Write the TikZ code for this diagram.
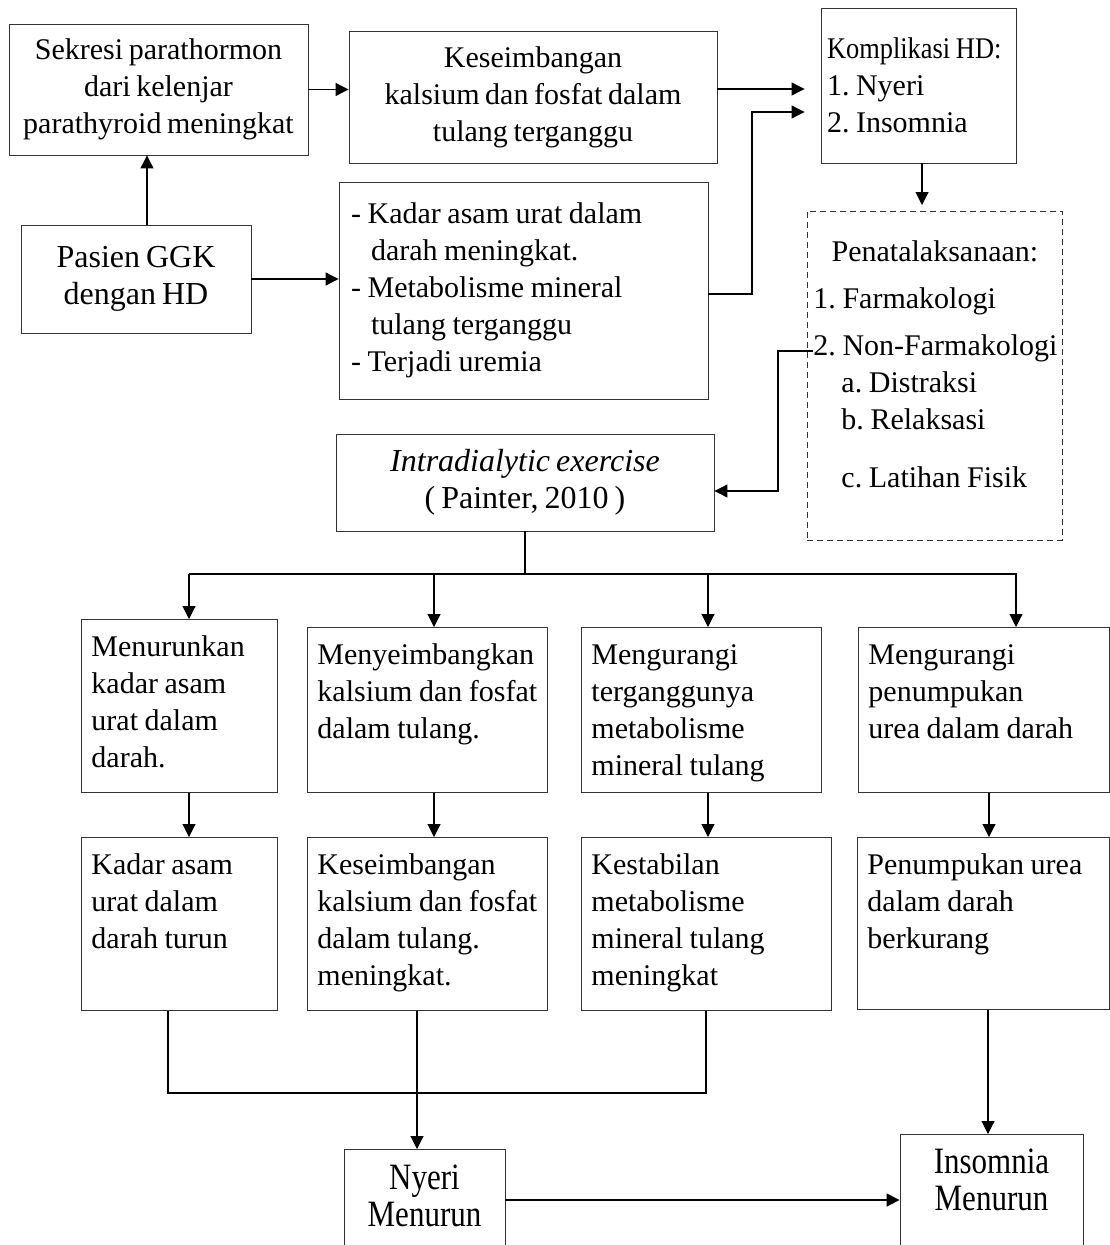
\documentclass[tikz,border=0pt]{standalone}
\usepackage{fontspec}
\setmainfont{Liberation Serif}[WordSpace=0.75]
\usepackage{graphicx}
\usetikzlibrary{arrows.meta,positioning}

\tikzset{
  block/.style={draw=black!80, line width=0.9pt, align=center, inner sep=4pt},
  cell/.style={draw=black!80, line width=0.9pt, anchor=north west, align=left,
    inner xsep=0pt, inner ysep=0pt, text height=37pt,
    execute at begin node={\leftskip 10pt\spaceskip 0.22em\relax}},
  dashblock/.style={draw=black!80, line width=0.9pt, dash pattern=on 6pt off 4pt,
    anchor=north west, align=left, inner xsep=0pt, inner ysep=0pt,
    execute at begin node={\leftskip 6pt\spaceskip 0.22em\relax}},
  big/.style={font=\fontsize{32}{37}\selectfont},
  tall/.style={font=\fontsize{31}{37}\selectfont},
}

\begin{document}
\begin{tikzpicture}[x=1pt,y=-1pt,>={Triangle[length=13pt,width=13pt]},line width=1.1pt,
  font=\fontsize{30}{37}\selectfont\frenchspacing]
\path[use as bounding box] (0,0) rectangle (1110,1245);
\clip (0,0) rectangle (1110,1245);

% upper part
\node[block, minimum width=299, minimum height=131] (sekresi) at (158.5,89.5) {Sekresi parathormon\\dari kelenjar\\parathyroid meningkat};
\node[block, minimum width=368, minimum height=132] (seimbang) at (533,97) {Keseimbangan\\kalsium dan fosfat dalam\\tulang terganggu};
\node[block, big, minimum width=230, minimum height=108] (pasien) at (136,279) {Pasien GGK\\dengan HD};
\node[block, align=left, text width=369, inner xsep=0pt, minimum height=217,
  execute at begin node={\leftskip 12pt\spaceskip 0.22em\relax}] (gangguan) at (523.5,290.5) {- Kadar asam urat dalam\\\hspace*{20pt}darah meningkat.\\- Metabolisme mineral\\\hspace*{20pt}tulang terganggu\\- Terjadi uremia};
\node[block, align=left, text width=195, inner xsep=0pt, minimum height=155,
  execute at begin node={\leftskip 6pt\spaceskip 0.22em\relax}] (komplikasi) at (918.5,85.5) {\scalebox{0.88}[1]{Komplikasi HD:}\\1. Nyeri\\2. Insomnia};
\node[dashblock, text width=255, text height=50pt, text depth=279pt] (tata) at (807,211) {\makebox[243pt]{Penatalaksanaan:}\\[10pt]1. Farmakologi\\[10pt]2. Non-Farmakologi\\\hspace*{28pt}a. Distraksi\\\hspace*{28pt}b. Relaksasi\\[21pt]\hspace*{28pt}c. Latihan Fisik};
\coordinate (nonfarma) at (813,351);
\node[block, big, minimum width=378, minimum height=97] (intra) at (525,482.5) {\textit{Intradialytic exercise}\\( Painter, 2010 )};

% four effects
\node[cell, text width=196, text depth=136] (turun1) at (81,619) {Menurunkan\\kadar asam\\urat dalam\\darah.};
\node[cell, text width=240, text depth=128] (turun2) at (307,627) {Menyeimbangkan\\kalsium dan fosfat\\dalam tulang.};
\node[cell, text width=240, text depth=128] (turun3) at (581,627) {Mengurangi\\terganggunya\\metabolisme\\mineral tulang};
\node[cell, text width=251, text depth=128] (turun4) at (858,627) {Mengurangi\\penumpukan\\urea dalam darah};

\node[cell, text width=196, text depth=136] (hasil1) at (81,837) {Kadar asam\\urat dalam\\darah turun};
\node[cell, text width=240, text depth=136] (hasil2) at (307,837) {Keseimbangan\\kalsium dan fosfat\\dalam tulang.\\meningkat.};
\node[cell, text width=250, text depth=136] (hasil3) at (581,837) {Kestabilan\\metabolisme\\mineral tulang\\meningkat};
\node[cell, text width=252, text depth=135] (hasil4) at (857,837) {Penumpukan urea\\dalam darah\\berkurang};

\node[block, tall, minimum width=161, minimum height=118, anchor=north] (nyeri) at (424.5,1149) {\smash{\scalebox{1}[1.2]{Nyeri}}\\\smash{\scalebox{1}[1.2]{Menurun}}};
\node[block, tall, minimum width=183, minimum height=115, anchor=north] (insomnia) at (991.5,1134) {\smash{\scalebox{1}[1.2]{Insomnia}}\\\smash{\scalebox{1}[1.2]{Menurun}}};

% connectors
\draw[->] (sekresi.east) -- (sekresi.east -| seimbang.west);
\draw[->] (pasien.north -| 147,0) -- (sekresi.south -| 147,0);
\draw[->] (pasien.east) -- (pasien.east -| gangguan.west);
\draw[->, shorten >=16pt] (seimbang.east |- 0,89) -- (komplikasi.west |- 0,89);
\draw[->, shorten >=16pt] (gangguan.east |- 0,294) -- (752,294) -- (752,112) -- (komplikasi.west |- 0,112);
\draw[->, shorten >=6pt] (komplikasi.south -| 922,0) -- (tata.north -| 922,0);
\draw[->] (nonfarma) -- (778,351) -- (778,491) -- (intra.east |- 0,491);

\draw (intra.south) -- (525,574);
\draw (189,574) -- (1017,574);
\foreach \nd/\x in {turun1/189,turun2/434,turun3/708,turun4/1016}
  \draw[->] (\x,574) -- (\nd.north -| \x,0);
\foreach \nd/\x in {1/189,2/434,3/708,4/989}
  \draw[->] (turun\nd.south -| \x,0) -- (hasil\nd.north -| \x,0);

\draw[line width=1.8pt] (hasil1.south -| 168,0) -- (168,1093) -- (706,1093) -- (hasil3.south -| 706,0);
\draw[->] (hasil2.south -| 417,0) -- (nyeri.north -| 417,0);
\draw[->] (hasil4.south -| 988,0) -- (insomnia.north -| 988,0);
\draw[->, line width=1.6pt] (nyeri.east |- 0,1200) -- (insomnia.west |- 0,1200);
\end{tikzpicture}
\end{document}
